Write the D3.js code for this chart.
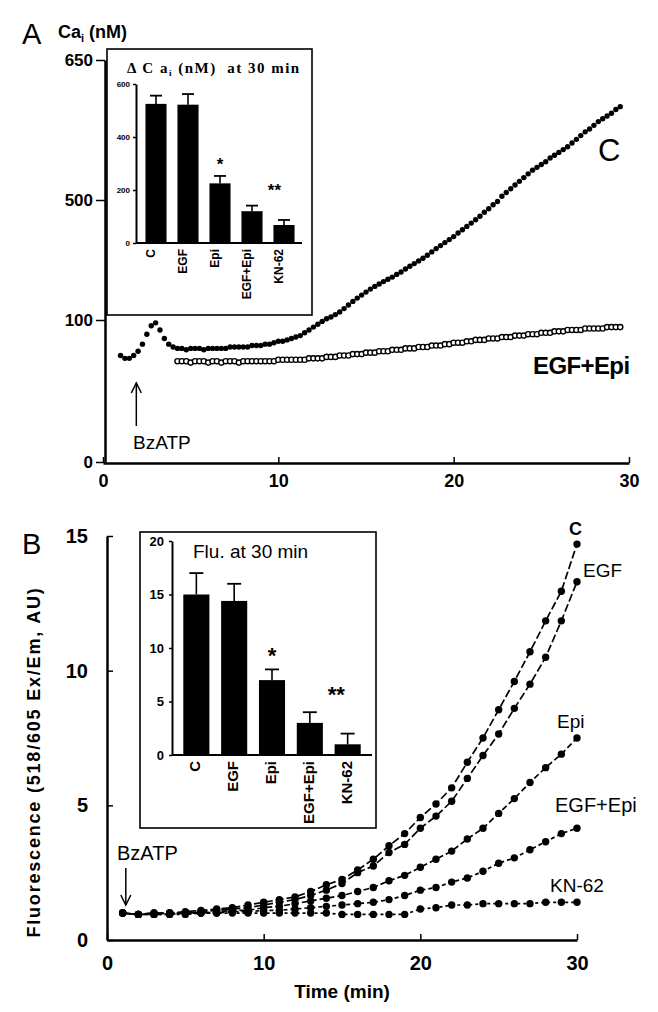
<!DOCTYPE html>
<html lang="en">
<head>
<meta charset="utf-8">
<title>Cai and fluorescence after BzATP</title>
<script src="https://cdn.jsdelivr.net/npm/d3@7"></script>
<style>
	body{margin:0;background:#fff}
	svg{display:block;font-family:"Liberation Sans",Arial,sans-serif}
</style>
</head>
<body>
<div id="chart"></div>
<script>

// ---- panel A : Cai traces, one point every 0.25 min ----
var caStep = 0.25
var caStartC = 1.0
var caStartEgfEpi = 4.25
var caC = [75,73,73,75,78,83,90,96,98,93,87,83,81,
	80,80,79,80,80,80,79,80,80,80,80,80,81,81,81,
	81,81,82,82,82,83,83,84,85,85,86,87,88,89,91,93,95,
	97,99,104,110,118,127,138,150,162,173,183,193,203,212,220,228,
	236,243,252,260,270,279,288,297,306,316,327,338,348,358,368,378,
	390,401,412,423,434,446,459,471,484,495,504,508,512,516,520,524,
	528,532,535,538,541,545,548,551,554,557,561,565,569,573,576,580,
	584,587,590,593,597,600]
var caEgfEpi = [71,71,71,70,71,71,71,70,71,71,70,71,71,71,70,71,71,71,71,71,71,71,71,72,
	72,72,72,72,72,72,73,73,73,73,74,74,74,75,75,75,76,76,76,77,77,77,78,78,
	78,79,79,79,80,80,80,81,81,81,82,82,82,83,83,84,84,84,85,85,86,86,86,87,
	87,87,88,88,88,89,89,89,90,90,90,91,91,91,92,92,92,93,93,93,93,94,94,94,
	94,94,95,95,95,95]
var caTicks = [0,100,500,650]
var timeTicks = [0,10,20,30]

// insets share the groups
var groups = ["C","EGF","Epi","EGF+Epi","KN-62"]
var dCaMean = [525,522,225,120,68]
var dCaErr = [31,40,28,21,19]
var dCaTicks = [0,200,400,600]

// ---- panel B : fluorescence, one point per minute ----
var fluTime = [1,2,3,4,5,6,7,8,9,10,11,12,13,14,15,16,17,18,19,20,21,22,23,24,25,26,27,28,29,30]
var fluC = [1.0,0.95,1.0,1.0,1.05,1.1,1.15,1.2,1.3,1.4,1.5,1.6,1.8,2.05,2.25,2.6,3.0,3.5,3.95,4.55,5.05,5.65,6.6,7.5,8.55,9.6,10.7,11.85,12.95,14.7]
var fluEGF = [1.0,0.95,1.0,1.0,1.0,1.05,1.1,1.15,1.2,1.3,1.4,1.5,1.65,1.85,2.1,2.5,2.75,3.25,3.55,4.15,4.6,5.15,6.0,6.85,7.65,8.6,9.5,10.5,11.85,13.3]
var fluEpi = [1.0,0.95,0.95,1.0,1.0,1.0,1.05,1.1,1.1,1.2,1.25,1.35,1.45,1.55,1.65,1.8,1.95,2.2,2.4,2.7,3.0,3.3,3.75,4.15,4.7,5.25,5.85,6.4,6.9,7.5]
var fluEgfEpi = [1.0,0.95,0.95,0.95,1.0,1.0,1.0,1.05,1.05,1.1,1.1,1.15,1.2,1.25,1.3,1.35,1.4,1.5,1.65,1.85,1.95,2.15,2.3,2.55,2.85,3.05,3.35,3.65,3.95,4.15]
var fluKN = [1.0,0.95,0.95,0.95,0.95,1.0,1.0,1.0,1.0,1.0,1.0,1.0,1.0,1.0,0.95,0.95,0.95,0.95,0.95,1.15,1.2,1.3,1.3,1.35,1.35,1.35,1.35,1.4,1.4,1.4]
var fluTicks = [0,5,10,15]
var fluMean = [15,14.4,7,3,1]
var fluErr = [2,1.6,1,1,1]
var fluInTicks = [0,5,10,15,20]

var svg = d3.select("#chart").append("svg")
	.attr("width",658)
	.attr("height",1012)

function styleAxis(g,size,domainW){
	g.select(".domain").attr("stroke","#000").attr("stroke-width",domainW)
	g.selectAll(".tick line").attr("stroke","#000").attr("stroke-width",1.5)
	g.selectAll(".tick text").attr("fill","#000").attr("font-size",size).attr("font-weight","bold")
		.attr("font-family","'Liberation Sans',Arial,sans-serif")
}

function arrow(x,y1,y2,dir){
	// dir -1 = head at y1 pointing up, 1 = head at y2 pointing down
	svg.append("line").attr("x1",x).attr("x2",x).attr("y1",y1).attr("y2",y2)
		.attr("stroke","#000").attr("stroke-width",1.5)
	var hy = dir<0 ? y1 : y2
	svg.append("path")
		.attr("d","M"+(x-5)+","+(hy-dir*10)+"L"+x+","+hy+"L"+(x+5)+","+(hy-dir*10))
		.attr("fill","none").attr("stroke","#000").attr("stroke-width",1.5)
}

// ================= PANEL A =================
var xA = d3.scaleLinear().domain([0,30]).range([103,629])
var yA = d3.scaleLinear().domain(caTicks).range([462,320,200,60])  // broken axis

svg.append("g").attr("transform","translate(105,0)")
	.call(d3.axisLeft(yA).tickValues(caTicks).tickSizeInner(9).tickSizeOuter(0).tickPadding(3))
	.call(styleAxis,17,2.5)
svg.append("g").attr("transform","translate(0,463)")
	.call(d3.axisBottom(xA).tickValues(timeTicks).tickSizeInner(-6).tickSizeOuter(0).tickPadding(11))
	.call(styleAxis,18,2.5)

svg.append("text").attr("x",22).attr("y",44).attr("font-size",29).text("A")
var caLab = svg.append("text").attr("x",58).attr("y",38).attr("font-size",18).attr("font-weight","bold")
caLab.append("tspan").text("Ca")
caLab.append("tspan").attr("font-size",11).attr("dy",4).text("i")
caLab.append("tspan").attr("dy",-4).text(" (nM)")

var cPts = caC.map(function(v,i){ return {t:caStartC+i*caStep, v:v} })
var ePts = caEgfEpi.map(function(v,i){ return {t:caStartEgfEpi+i*caStep, v:v} })

svg.selectAll(".caE").data(ePts).enter().append("circle")
	.attr("class","caE")
	.attr("cx",function(d){ return xA(d.t) })
	.attr("cy",function(d){ return yA(d.v) })
	.attr("r",2.6).attr("fill","#fff").attr("stroke","#000").attr("stroke-width",1.4)
svg.selectAll(".caC").data(cPts).enter().append("circle")
	.attr("class","caC")
	.attr("cx",function(d){ return xA(d.t) })
	.attr("cy",function(d){ return yA(d.v) })
	.attr("r",2.7).attr("fill","#000")

svg.append("text").attr("x",598).attr("y",161).attr("font-size",31).text("C")
svg.append("text").attr("x",533).attr("y",374).attr("font-size",24).attr("font-weight","bold")
	.attr("letter-spacing",-0.6).text("EGF+Epi")

arrow(xA(1.9),383,426,-1)
svg.append("text").attr("x",133).attr("y",449).attr("font-size",19).text("BzATP")

// inset A
svg.append("rect").attr("x",107).attr("y",49).attr("width",205).attr("height",266)
	.attr("fill","none").attr("stroke","#000").attr("stroke-width",1.6)

var tA = svg.append("text").attr("x",127).attr("y",73).attr("font-family","'Liberation Serif',serif")
	.attr("font-weight","bold").attr("font-size",15).attr("letter-spacing",1.5).style("white-space","pre")
tA.append("tspan").text("\u0394 C a")
tA.append("tspan").attr("font-size",9).attr("dy",3).text("i")
tA.append("tspan").attr("dy",-3).text(" (nM)  at 30 min")

var yInA = d3.scaleLinear().domain([0,600]).range([243,84])
var xInA = d3.scaleBand().domain(groups).range([140,300]).paddingInner(0.34).paddingOuter(0.17)

svg.append("g").attr("transform","translate(136,0)")
	.call(d3.axisLeft(yInA).tickValues(dCaTicks).tickSizeInner(3).tickSizeOuter(0).tickPadding(3))
	.call(styleAxis,8,2)
svg.append("line").attr("x1",136).attr("x2",302).attr("y1",243).attr("y2",243)
	.attr("stroke","#000").attr("stroke-width",2)

function bars(xs,ys,mean,err,cap,labelSize,labelDx,labelY){
	groups.forEach(function(g,i){
		var cx = xs(g)+xs.bandwidth()/2
		svg.append("line").attr("x1",cx).attr("x2",cx)
			.attr("y1",ys(mean[i])).attr("y2",ys(mean[i]+err[i]))
			.attr("stroke","#000").attr("stroke-width",1.6)
		svg.append("line").attr("x1",cx-cap/2).attr("x2",cx+cap/2)
			.attr("y1",ys(mean[i]+err[i])).attr("y2",ys(mean[i]+err[i]))
			.attr("stroke","#000").attr("stroke-width",1.8)
		svg.append("text")
			.attr("transform","translate("+(cx+labelDx)+","+labelY+") rotate(-90)")
			.attr("text-anchor","end").attr("font-size",labelSize).attr("font-weight","bold")
			.text(g)
	})
	svg.selectAll(null).data(mean).enter().append("rect")
		.attr("x",function(d,i){ return xs(groups[i]) })
		.attr("y",function(d){ return ys(d) })
		.attr("width",xs.bandwidth())
		.attr("height",function(d){ return ys(0)-ys(d) })
		.attr("fill","#000")
}
bars(xInA,yInA,dCaMean,dCaErr,12,12,-1,249)

function stars(xs,ys,mean,err,size){
	var c2 = xs("Epi")+xs.bandwidth()/2
	svg.append("text").attr("x",c2).attr("y",ys(mean[2]+err[2])-6).attr("text-anchor","middle")
		.attr("font-size",size).attr("font-weight","bold").text("*")
	var c4 = xs("KN-62")+xs.bandwidth()/2-0.3*xs.step()
	svg.append("text").attr("x",c4).attr("y",ys(mean[3]+err[3])-10).attr("text-anchor","middle")
		.attr("font-size",size).attr("font-weight","bold").text("**")
}
stars(xInA,yInA,dCaMean,dCaErr,17)

// ================= PANEL B =================
var xB = d3.scaleLinear().domain([0,30]).range([107,577])
var yB = d3.scaleLinear().domain([0,15]).range([940,536])

svg.append("g").attr("transform","translate(107,0)")
	.call(d3.axisLeft(yB).tickValues(fluTicks).tickSizeInner(-6).tickSizeOuter(0).tickPadding(19))
	.call(styleAxis,20,2.5)
svg.append("g").attr("transform","translate(0,940)")
	.call(d3.axisBottom(xB).tickValues(timeTicks).tickSizeInner(-6).tickSizeOuter(0).tickPadding(16))
	.call(styleAxis,20,2.5)

svg.append("text").attr("x",22).attr("y",554).attr("font-size",29).text("B")
svg.append("text").attr("transform","translate(40,762) rotate(-90)")
	.attr("text-anchor","middle").attr("font-size",18).attr("font-weight","bold")
	.attr("letter-spacing",1.8).text("Fluorescence (518/605 Ex/Em, AU)")
svg.append("text").attr("x",342).attr("y",998).attr("text-anchor","middle")
	.attr("font-size",19).attr("font-weight","bold").text("Time (min)")

var fluSeries = [fluKN,fluEgfEpi,fluEpi,fluEGF,fluC]
var fluDash = ["3,3","4,3","6,3","8,3","8,3"]
var lineB = d3.line()
	.x(function(d,i){ return xB(fluTime[i]) })
	.y(function(d){ return yB(d) })
fluSeries.forEach(function(s,k){
	svg.append("path").datum(s).attr("d",lineB)
		.attr("fill","none").attr("stroke","#000").attr("stroke-width",1.7)
		.attr("stroke-dasharray",fluDash[k])
	svg.selectAll(null).data(s).enter().append("circle")
		.attr("cx",function(d,i){ return xB(fluTime[i]) })
		.attr("cy",function(d){ return yB(d) })
		.attr("r",3.7).attr("fill","#000")
})

svg.append("text").attr("x",569).attr("y",535).attr("font-size",18).attr("font-weight","bold").text("C")
svg.append("text").attr("x",583).attr("y",577).attr("font-size",19).text("EGF")
svg.append("text").attr("x",557).attr("y",728).attr("font-size",19).text("Epi")
svg.append("text").attr("x",555).attr("y",812).attr("font-size",20).text("EGF+Epi")
svg.append("text").attr("x",550).attr("y",892).attr("font-size",19).text("KN-62")

arrow(xB(1.2),868,905,1)
svg.append("text").attr("x",117).attr("y",860).attr("font-size",20).text("BzATP")

// inset B
svg.append("rect").attr("x",140).attr("y",532).attr("width",236).attr("height",296)
	.attr("fill","#fff").attr("stroke","#000").attr("stroke-width",1.6)
svg.append("text").attr("x",193).attr("y",558).attr("font-size",19).text("Flu. at 30 min")

var yInB = d3.scaleLinear().domain([0,20]).range([755,541])
var xInB = d3.scaleBand().domain(groups).range([178,366]).paddingInner(0.31).paddingOuter(0.14)
svg.append("g").attr("transform","translate(172,0)")
	.call(d3.axisLeft(yInB).tickValues(fluInTicks).tickSizeInner(3).tickSizeOuter(0).tickPadding(5))
	.call(styleAxis,13,2)
svg.append("line").attr("x1",172).attr("x2",372).attr("y1",755).attr("y2",755)
	.attr("stroke","#000").attr("stroke-width",2)
bars(xInB,yInB,fluMean,fluErr,14,15,4,761)
stars(xInB,yInB,fluMean,fluErr,22)

</script>
</body>
</html>
